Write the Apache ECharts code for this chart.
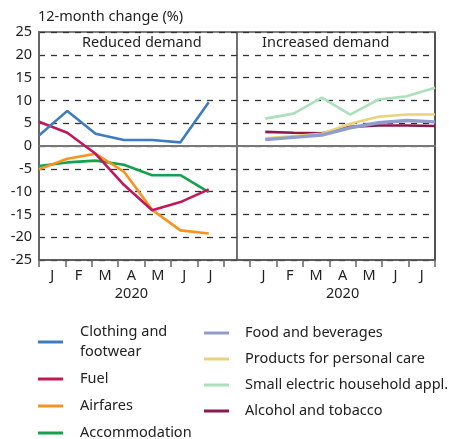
<!DOCTYPE html>
<html>
<head>
<meta charset="utf-8">
<script src="https://cdn.jsdelivr.net/npm/echarts@6/dist/echarts.min.js"></script>
<style>
  html, body { margin: 0; padding: 0; background: #fff; }
  #chart { width: 449px; height: 439px; }
</style>
</head>
<body>
<div id="chart"></div>
<script>
// month labels (left panel, gap, right panel)
const months = ['J', 'F', 'M', 'A', 'M', 'J', 'J'];
const yearLabel = '2020';
const yTicks = { min: -25, max: 25, step: 5 };

// reduced demand (left panel)
const clothing = [2.3, 7.7, 2.7, 1.3, 1.3, 0.8, 9.6];
const fuel = [5.3, 2.9, -1.7, -8.5, -14.1, -12.3, -9.5];
const airfares = [-5.1, -2.8, -1.7, -5.6, -14.0, -18.5, -19.2];
const accommodation = [-4.4, -3.6, -3.2, -4.1, -6.4, -6.4, -10.1];

// increased demand (right panel)
const foodBev = [1.4, 1.9, 2.4, 4.0, 5.1, 5.6, 5.3];
const personalCare = [1.7, 2.2, 2.7, 4.9, 6.4, 6.9, 6.9];
const smallElectric = [6.0, 7.1, 10.6, 6.9, 10.2, 10.9, 12.8];
const alcoholTobacco = [3.1, 2.9, 2.8, 4.2, 4.5, 4.5, 4.4];

const font = 'Noto Sans';
const txt = '#222';
const fs = 14.5;

const leftData = arr => arr.map((v, i) => [i, v]);
const rightData = arr => arr.map((v, i) => [i + 8, v]);

const labelCats = months.concat(['']).concat(months);
const yearCats = labelCats.map((m, i) => (i === 3 || i === 11) ? yearLabel : '');

const mkLine = (name, data, color, width) => ({
    name: name,
    type: 'line',
    xAxisIndex: 0,
    data: data,
    showSymbol: false,
    symbol: 'none',
    lineStyle: { color: color, width: width || 2.6 },
    itemStyle: { color: color },
    animation: false
});

var dom = document.getElementById('chart');
var myChart = echarts.init(dom, null, { renderer: 'canvas' });
var option = {
    backgroundColor: '#fff',
    textStyle: { fontFamily: font },
    title: [
        { text: '12-month change (%)', left: 38, top: 9, padding: 0,
          textStyle: { fontFamily: font, fontSize: fs, fontWeight: 'normal', color: txt } },
        { text: 'Reduced demand', left: 82, top: 35, padding: 0,
          textStyle: { fontFamily: font, fontSize: fs, fontWeight: 'normal', color: txt } },
        { text: 'Increased demand', left: 262, top: 35, padding: 0,
          textStyle: { fontFamily: font, fontSize: fs, fontWeight: 'normal', color: txt } }
    ],
    grid: {
        left: 39, right: 14, top: 32, bottom: 179,
        show: true, borderColor: '#555', borderWidth: 1.5
    },
    xAxis: [
        {
            type: 'value', min: 0, max: 14, interval: 7, position: 'bottom',
            axisLine: { show: true, onZero: true, lineStyle: { color: '#777', width: 2 } },
            axisTick: { show: false },
            axisLabel: { show: false },
            splitLine: { show: true, lineStyle: { color: '#444', width: 1.5 } }
        },
        {
            type: 'category', data: labelCats, boundaryGap: true, position: 'bottom',
            axisLine: { show: true, onZero: false, lineStyle: { color: '#555', width: 1.5 } },
            axisTick: { show: true, interval: 0, length: 7, lineStyle: { color: '#666', width: 1.5 } },
            axisLabel: { interval: 0, margin: 8, fontSize: fs, color: txt, fontFamily: font },
            splitLine: { show: false }
        },
        {
            type: 'category', data: yearCats, boundaryGap: true, position: 'bottom',
            axisLine: { show: false, onZero: false },
            axisTick: { show: false },
            axisLabel: { interval: 0, margin: 26, fontSize: fs, color: txt, fontFamily: font },
            splitLine: { show: false }
        }
    ],
    yAxis: {
        type: 'value', min: yTicks.min, max: yTicks.max, interval: yTicks.step,
        axisLine: { show: true, lineStyle: { color: '#666', width: 2 } },
        axisTick: { show: false },
        axisLabel: { fontSize: fs, color: txt, margin: 7, fontFamily: font },
        splitLine: { show: true, lineStyle: { color: '#333', width: 1.3, type: [6, 6] } }
    },
    legend: [
        {
            data: ['Clothing and footwear', 'Fuel', 'Airfares', 'Accommodation'],
            orient: 'vertical', left: 38, top: 322, padding: 0,
            icon: 'rect', itemWidth: 25, itemHeight: 3, itemGap: 7,
            formatter: n => n === 'Clothing and footwear' ? 'Clothing and\nfootwear' : n,
            textStyle: { fontSize: fs, lineHeight: 20, color: txt, fontFamily: font, padding: [0, 0, 0, 12] }
        },
        {
            data: ['Food and beverages', 'Products for personal care', 'Small electric household appl.', 'Alcohol and tobacco'],
            orient: 'vertical', left: 204, top: 323, padding: 0,
            icon: 'rect', itemWidth: 25, itemHeight: 3, itemGap: 6,
            textStyle: { fontSize: fs, lineHeight: 20, color: txt, fontFamily: font, padding: [0, 0, 0, 11] }
        }
    ],
    series: [
        mkLine('Accommodation', leftData(accommodation), '#14a24f'),
        mkLine('Airfares', leftData(airfares), '#f7941d'),
        mkLine('Fuel', leftData(fuel), '#c2185b'),
        mkLine('Clothing and footwear', leftData(clothing), '#3e7cc2'),
        mkLine('Alcohol and tobacco', rightData(alcoholTobacco), '#8b1a4c'),
        mkLine('Products for personal care', rightData(personalCare), '#ead27a'),
        mkLine('Food and beverages', rightData(foodBev), '#8e9ccf', 3.4),
        mkLine('Small electric household appl.', rightData(smallElectric), '#ace0bb')
    ]
};
if (option && typeof option === 'object') {
    myChart.setOption(option);
}
</script>
</body>
</html>
